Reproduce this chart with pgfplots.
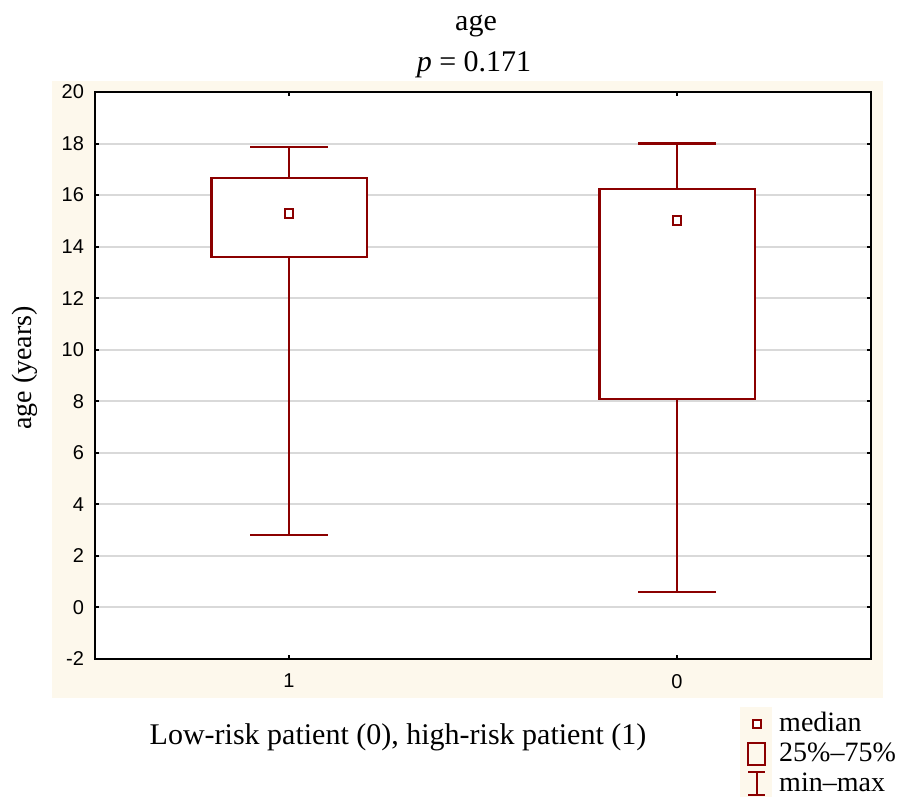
\documentclass[border=0pt]{standalone}
\usepackage{fontspec}
\setmainfont{Liberation Serif}
\newfontfamily\ticksans{Liberation Sans}
\usepackage{pgfplots}
\pgfplotsset{compat=1.18}
\usepgfplotslibrary{statistics}
\definecolor{boxred}{RGB}{139,0,0}
\definecolor{cream}{RGB}{253,248,236}
\definecolor{gridgray}{RGB}{217,217,217}

\begin{document}
\begin{tikzpicture}[x=1pt,y=1pt]
% page frame: 900x797 px at 0.5pt per px
\path[use as bounding box] (0,0) rectangle (450,398.5);
\fill[cream] (26,49.5) rectangle (441.5,358);
\fill[cream] (370,0) rectangle (386,45);
\begin{axis}[
    at={(47.5pt,69pt)}, anchor=south west,
    scale only axis, width=388pt, height=283.5pt,
    xmin=-0.5, xmax=1.5, ymin=-2, ymax=20,
    xtick={0,1}, xticklabels={1,0},
    ytick={-2,0,...,20},
    tick align=inside, major tick length=2pt,
    tick style={black, line width=1pt},
    axis line style={line width=1pt},
    ymajorgrids, grid style={gridgray, line width=1pt},
    axis background/.style={fill=white},
    tick label style={font=\ticksans\fontsize{10}{12}\selectfont},
    /pgf/number format/assume math mode=true,
    yticklabel style={xshift=-2pt},
    xticklabel style={yshift=-4pt},
    boxplot/draw direction=y,
    boxplot/draw/median/.code={},
    boxplot/box extend=0.4,
    boxplot/whisker extend=0.2,
    legend style={at={(axis description cs:0.84,-0.087)}, anchor=north west,
        draw=none, fill=none, font=\fontsize{14}{15}\selectfont,
        row sep=0pt, inner sep=0pt, nodes={inner sep=1.5pt},
        /tikz/every odd column/.style={column sep=5pt}},
    legend cell align=left,
]
% high-risk (1)
\addplot[forget plot, boxred, line width=1.1pt, fill=white,
    boxplot prepared={draw position=0,
        lower whisker=2.81, lower quartile=13.6, median=15.3,
        upper quartile=16.66, upper whisker=17.87}]
    coordinates {};
% low-risk (0)
\addplot[forget plot, boxred, line width=1.1pt, fill=white,
    boxplot prepared={draw position=1,
        lower whisker=0.6, lower quartile=8.08, median=15.02,
        upper quartile=16.24, upper whisker=18.0}]
    coordinates {};
% medians
\addplot[forget plot, only marks, mark=square*, mark size=2.2pt, boxred, line width=1pt,
    mark options={fill=white}]
    coordinates {(0,15.3) (1,15.02)};

\addlegendimage{legend image code/.code={
    \path[draw=none, fill=none] (0,-7.5pt) rectangle (9.5pt,7.5pt);
    \draw[boxred, line width=1pt, fill=white] (2.75pt,-2pt) rectangle (6.75pt,2pt);}}
\addlegendentry{median}
\addlegendimage{legend image code/.code={
    \path[draw=none, fill=none] (0,-7.5pt) rectangle (9.5pt,7.5pt);
    \draw[boxred, line width=1pt, fill=none] (0.5pt,-5.5pt) rectangle (9pt,5.5pt);}}
\addlegendentry{25\%–75\%}
\addlegendimage{legend image code/.code={
    \path[draw=none, fill=none] (0,-7.5pt) rectangle (9.5pt,7.5pt);
    \draw[boxred, line width=1pt] (0.5pt,-5.75pt) -- (9pt,-5.75pt)
        (4.75pt,-5.75pt) -- (4.75pt,5.75pt) (0.5pt,5.75pt) -- (9pt,5.75pt);}}
\addlegendentry{min–max}
\end{axis}
\node[anchor=base, font=\fontsize{15}{17}\selectfont] at (238,383) {age};
\node[anchor=base, font=\fontsize{15}{17}\selectfont] at (237,362.6) {\textit{p} = 0.171};
\node[anchor=base, font=\fontsize{15}{17}\selectfont] at (199,26) {Low-risk patient (0), high-risk patient (1)};
\node[rotate=90, font=\fontsize{14}{16}\selectfont] at (12.5,214.5) {age (years)};
\end{tikzpicture}
\end{document}
